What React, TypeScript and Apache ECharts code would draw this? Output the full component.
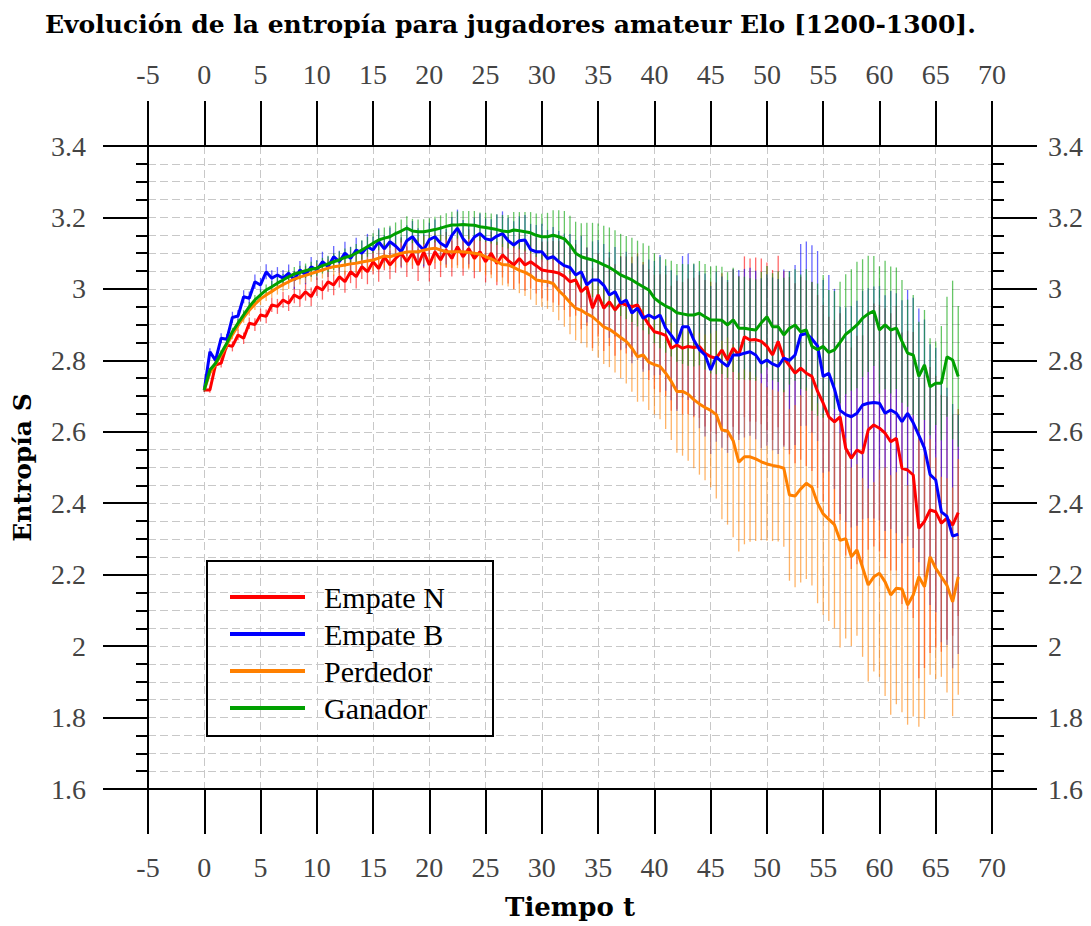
import React, { useEffect, useRef } from "react";
import * as echarts from "echarts";

const TIME = [
  0, 0.5, 1, 1.5, 2, 2.5, 3, 3.5, 4, 4.5,
  5, 5.5, 6, 6.5, 7, 7.5, 8, 8.5, 9, 9.5,
  10, 10.5, 11, 11.5, 12, 12.5, 13, 13.5, 14, 14.5,
  15, 15.5, 16, 16.5, 17, 17.5, 18, 18.5, 19, 19.5,
  20, 20.5, 21, 21.5, 22, 22.5, 23, 23.5, 24, 24.5,
  25, 25.5, 26, 26.5, 27, 27.5, 28, 28.5, 29, 29.5,
  30, 30.5, 31, 31.5, 32, 32.5, 33, 33.5, 34, 34.5,
  35, 35.5, 36, 36.5, 37, 37.5, 38, 38.5, 39, 39.5,
  40, 40.5, 41, 41.5, 42, 42.5, 43, 43.5, 44, 44.5,
  45, 45.5, 46, 46.5, 47, 47.5, 48, 48.5, 49, 49.5,
  50, 50.5, 51, 51.5, 52, 52.5, 53, 53.5, 54, 54.5,
  55, 55.5, 56, 56.5, 57, 57.5, 58, 58.5, 59, 59.5,
  60, 60.5, 61, 61.5, 62, 62.5, 63, 63.5, 64, 64.5,
  65, 65.5, 66, 66.5, 67,
];

const EMPATE_N = [
  2.717, 2.717, 2.787, 2.792, 2.843, 2.839, 2.871, 2.862, 2.904, 2.900,
  2.927, 2.923, 2.955, 2.951, 2.969, 2.960, 2.983, 2.974, 2.992, 2.978,
  3.006, 2.997, 3.020, 3.011, 3.034, 3.020, 3.048, 3.034, 3.062, 3.048,
  3.076, 3.057, 3.090, 3.067, 3.085, 3.100, 3.076, 3.100, 3.067, 3.104,
  3.067, 3.104, 3.081, 3.109, 3.085, 3.118, 3.090, 3.113, 3.085, 3.104,
  3.076, 3.100, 3.071, 3.095, 3.080, 3.067, 3.085, 3.067, 3.076, 3.065,
  3.053, 3.050, 3.048, 3.044, 3.035, 3.020, 3.025, 2.992, 3.006, 2.946,
  2.983, 2.946, 2.964, 2.941, 2.960, 2.955, 2.950, 2.955, 2.925, 2.900,
  2.880, 2.876, 2.870, 2.834, 2.843, 2.834, 2.839, 2.836, 2.839, 2.820,
  2.810, 2.806, 2.829, 2.801, 2.834, 2.815, 2.866, 2.857, 2.858, 2.853,
  2.839, 2.815, 2.853, 2.806, 2.785, 2.764, 2.778, 2.764, 2.755, 2.713,
  2.680, 2.642, 2.628, 2.642, 2.554, 2.526, 2.549, 2.540, 2.605, 2.619,
  2.610, 2.596, 2.572, 2.582, 2.498, 2.493, 2.479, 2.330, 2.349, 2.381,
  2.376, 2.344, 2.358, 2.339, 2.374,
];

const EMPATE_B = [
  2.717, 2.824, 2.800, 2.862, 2.859, 2.920, 2.924, 2.978, 2.974, 3.020,
  3.011, 3.048, 3.030, 3.039, 3.030, 3.044, 3.025, 3.053, 3.039, 3.062,
  3.053, 3.076, 3.062, 3.090, 3.076, 3.100, 3.085, 3.109, 3.100, 3.118,
  3.109, 3.132, 3.112, 3.132, 3.120, 3.104, 3.135, 3.146, 3.125, 3.109,
  3.138, 3.146, 3.128, 3.118, 3.150, 3.170, 3.140, 3.123, 3.145, 3.155,
  3.140, 3.137, 3.148, 3.155, 3.135, 3.123, 3.135, 3.137, 3.110, 3.104,
  3.104, 3.085, 3.090, 3.076, 3.065, 3.060, 3.039, 3.048, 3.011, 3.025,
  3.025, 3.010, 2.983, 2.992, 2.960, 2.969, 2.932, 2.946, 2.918, 2.927,
  2.918, 2.927, 2.890, 2.870, 2.848, 2.894, 2.894, 2.857, 2.830, 2.815,
  2.773, 2.810, 2.795, 2.783, 2.815, 2.815, 2.820, 2.824, 2.815, 2.792,
  2.801, 2.790, 2.783, 2.806, 2.800, 2.815, 2.871, 2.875, 2.860, 2.840,
  2.755, 2.764, 2.720, 2.660, 2.648, 2.642, 2.652, 2.675, 2.680, 2.682,
  2.680, 2.652, 2.661, 2.652, 2.628, 2.652, 2.625, 2.590, 2.554, 2.480,
  2.465, 2.376, 2.363, 2.308, 2.313,
];

const PERDEDOR = [
  2.717, 2.765, 2.790, 2.815, 2.843, 2.872, 2.897, 2.920, 2.940, 2.957,
  2.972, 2.983, 2.993, 3.003, 3.012, 3.020, 3.027, 3.033, 3.038, 3.043,
  3.048, 3.053, 3.058, 3.062, 3.064, 3.067, 3.070, 3.072, 3.075, 3.078,
  3.081, 3.086, 3.092, 3.090, 3.095, 3.100, 3.103, 3.104, 3.104, 3.108,
  3.112, 3.114, 3.109, 3.104, 3.104, 3.104, 3.104, 3.102, 3.100, 3.097,
  3.090, 3.084, 3.076, 3.068, 3.067, 3.060, 3.052, 3.046, 3.038, 3.025,
  3.022, 3.020, 3.015, 2.995, 2.980, 2.962, 2.946, 2.940, 2.930, 2.922,
  2.908, 2.894, 2.887, 2.876, 2.864, 2.853, 2.834, 2.810, 2.815, 2.795,
  2.788, 2.783, 2.764, 2.741, 2.713, 2.713, 2.705, 2.690, 2.678, 2.668,
  2.660, 2.648, 2.605, 2.602, 2.575, 2.515, 2.530, 2.530, 2.524, 2.516,
  2.510, 2.506, 2.503, 2.498, 2.423, 2.420, 2.440, 2.456, 2.445, 2.400,
  2.370, 2.355, 2.340, 2.296, 2.301, 2.250, 2.269, 2.220, 2.171, 2.194,
  2.204, 2.180, 2.143, 2.162, 2.160, 2.115, 2.143, 2.194, 2.166, 2.250,
  2.218, 2.194, 2.170, 2.124, 2.194,
];

const GANADOR = [
  2.717, 2.773, 2.792, 2.820, 2.848, 2.880, 2.904, 2.927, 2.950, 2.969,
  2.983, 2.997, 3.006, 3.016, 3.025, 3.034, 3.042, 3.046, 3.051, 3.055,
  3.058, 3.065, 3.070, 3.076, 3.081, 3.088, 3.092, 3.100, 3.109, 3.118,
  3.128, 3.137, 3.142, 3.146, 3.155, 3.162, 3.170, 3.162, 3.160, 3.160,
  3.163, 3.166, 3.170, 3.175, 3.179, 3.179, 3.180, 3.179, 3.178, 3.174,
  3.172, 3.169, 3.166, 3.162, 3.160, 3.165, 3.163, 3.160, 3.157, 3.150,
  3.146, 3.146, 3.150, 3.146, 3.140, 3.123, 3.100, 3.090, 3.085, 3.081,
  3.075, 3.067, 3.060, 3.050, 3.039, 3.032, 3.025, 3.015, 3.006, 2.997,
  2.974, 2.962, 2.952, 2.945, 2.933, 2.930, 2.927, 2.927, 2.932, 2.922,
  2.913, 2.913, 2.912, 2.899, 2.913, 2.890, 2.890, 2.887, 2.885, 2.905,
  2.922, 2.894, 2.894, 2.871, 2.890, 2.899, 2.880, 2.885, 2.839, 2.830,
  2.839, 2.822, 2.829, 2.850, 2.873, 2.885, 2.899, 2.918, 2.930, 2.938,
  2.885, 2.899, 2.885, 2.890, 2.853, 2.820, 2.815, 2.755, 2.787, 2.726,
  2.736, 2.736, 2.810, 2.801, 2.755,
];

const ERR_N = [
  0.005, 0.008, 0.010, 0.012, 0.012, 0.014, 0.015, 0.016, 0.016, 0.018,
  0.018, 0.019, 0.020, 0.021, 0.022, 0.022, 0.023, 0.024, 0.025, 0.026,
  0.026, 0.027, 0.028, 0.029, 0.030, 0.031, 0.032, 0.033, 0.034, 0.035,
  0.036, 0.037, 0.038, 0.040, 0.040, 0.042, 0.043, 0.044, 0.045, 0.046,
  0.046, 0.048, 0.048, 0.050, 0.050, 0.052, 0.053, 0.054, 0.055, 0.056,
  0.058, 0.060, 0.061, 0.063, 0.065, 0.067, 0.070, 0.072, 0.075, 0.078,
  0.080, 0.083, 0.086, 0.090, 0.094, 0.098, 0.100, 0.105, 0.110, 0.112,
  0.116, 0.120, 0.124, 0.128, 0.132, 0.136, 0.140, 0.145, 0.150, 0.155,
  0.160, 0.165, 0.170, 0.175, 0.180, 0.185, 0.190, 0.195, 0.200, 0.205,
  0.210, 0.212, 0.215, 0.218, 0.220, 0.222, 0.225, 0.228, 0.230, 0.232,
  0.235, 0.238, 0.240, 0.244, 0.248, 0.252, 0.256, 0.260, 0.265, 0.270,
  0.275, 0.280, 0.285, 0.290, 0.300, 0.310, 0.320, 0.330, 0.335, 0.340,
  0.345, 0.350, 0.360, 0.370, 0.380, 0.390, 0.400, 0.420, 0.410, 0.400,
  0.380, 0.360, 0.340, 0.310, 0.290,
];

const ERR_B = [
  0.005, 0.010, 0.012, 0.014, 0.015, 0.016, 0.017, 0.018, 0.019, 0.020,
  0.020, 0.021, 0.022, 0.022, 0.023, 0.024, 0.025, 0.025, 0.026, 0.027,
  0.028, 0.028, 0.029, 0.030, 0.031, 0.032, 0.033, 0.034, 0.035, 0.036,
  0.037, 0.038, 0.039, 0.040, 0.041, 0.042, 0.043, 0.044, 0.045, 0.046,
  0.047, 0.048, 0.049, 0.050, 0.051, 0.052, 0.053, 0.054, 0.055, 0.056,
  0.057, 0.058, 0.060, 0.062, 0.064, 0.066, 0.068, 0.070, 0.072, 0.075,
  0.078, 0.080, 0.083, 0.086, 0.090, 0.094, 0.098, 0.100, 0.105, 0.108,
  0.112, 0.116, 0.120, 0.125, 0.130, 0.135, 0.140, 0.145, 0.150, 0.155,
  0.160, 0.168, 0.175, 0.182, 0.190, 0.198, 0.205, 0.212, 0.220, 0.228,
  0.235, 0.238, 0.240, 0.242, 0.240, 0.238, 0.236, 0.235, 0.236, 0.238,
  0.240, 0.242, 0.245, 0.248, 0.250, 0.252, 0.255, 0.258, 0.262, 0.266,
  0.270, 0.275, 0.280, 0.290, 0.300, 0.310, 0.315, 0.320, 0.322, 0.325,
  0.328, 0.330, 0.333, 0.336, 0.340, 0.345, 0.350, 0.355, 0.360, 0.365,
  0.370, 0.365, 0.360, 0.370, 0.335,
];

const ERR_P = [
  0.005, 0.008, 0.010, 0.011, 0.012, 0.013, 0.014, 0.015, 0.015, 0.016,
  0.017, 0.017, 0.018, 0.019, 0.019, 0.020, 0.021, 0.021, 0.022, 0.023,
  0.023, 0.024, 0.025, 0.025, 0.026, 0.027, 0.028, 0.028, 0.029, 0.030,
  0.031, 0.032, 0.033, 0.034, 0.035, 0.036, 0.037, 0.038, 0.039, 0.040,
  0.041, 0.042, 0.043, 0.044, 0.045, 0.046, 0.047, 0.048, 0.049, 0.050,
  0.052, 0.054, 0.056, 0.058, 0.060, 0.062, 0.064, 0.066, 0.068, 0.070,
  0.073, 0.076, 0.080, 0.083, 0.086, 0.089, 0.090, 0.092, 0.094, 0.096,
  0.100, 0.104, 0.106, 0.110, 0.114, 0.118, 0.122, 0.126, 0.130, 0.134,
  0.140, 0.148, 0.156, 0.164, 0.172, 0.180, 0.186, 0.192, 0.198, 0.204,
  0.215, 0.235, 0.250, 0.262, 0.270, 0.250, 0.245, 0.238, 0.230, 0.220,
  0.215, 0.212, 0.210, 0.220, 0.240, 0.255, 0.262, 0.268, 0.275, 0.280,
  0.282, 0.285, 0.290, 0.300, 0.280, 0.250, 0.240, 0.250, 0.270, 0.265,
  0.290, 0.320, 0.335, 0.325, 0.345, 0.335, 0.340, 0.420, 0.370, 0.330,
  0.310, 0.280, 0.300, 0.320, 0.330,
];

const ERR_G = [
  0.004, 0.006, 0.008, 0.009, 0.010, 0.011, 0.012, 0.013, 0.013, 0.014,
  0.015, 0.015, 0.016, 0.017, 0.017, 0.018, 0.019, 0.019, 0.020, 0.021,
  0.021, 0.022, 0.023, 0.023, 0.024, 0.025, 0.025, 0.026, 0.027, 0.028,
  0.028, 0.029, 0.030, 0.031, 0.031, 0.032, 0.033, 0.034, 0.034, 0.035,
  0.035, 0.036, 0.036, 0.037, 0.037, 0.038, 0.038, 0.039, 0.040, 0.040,
  0.041, 0.042, 0.043, 0.045, 0.047, 0.050, 0.052, 0.055, 0.058, 0.061,
  0.064, 0.067, 0.070, 0.074, 0.078, 0.082, 0.088, 0.094, 0.100, 0.104,
  0.108, 0.110, 0.112, 0.114, 0.115, 0.116, 0.118, 0.120, 0.122, 0.124,
  0.126, 0.128, 0.131, 0.134, 0.137, 0.140, 0.142, 0.144, 0.146, 0.148,
  0.150, 0.152, 0.150, 0.148, 0.146, 0.145, 0.144, 0.143, 0.142, 0.142,
  0.142, 0.150, 0.155, 0.160, 0.158, 0.156, 0.160, 0.170, 0.180, 0.185,
  0.200, 0.175, 0.165, 0.170, 0.168, 0.170, 0.177, 0.165, 0.163, 0.154,
  0.178, 0.180, 0.178, 0.170, 0.172, 0.150, 0.168, 0.153, 0.154, 0.136,
  0.117, 0.160, 0.168, 0.222, 0.197,
];

const SERIES_NAMES = ["Empate N", "Empate B", "Perdedor", "Ganador"];
const SERIES_COLORS = ["#ff0000", "#0000ff", "#ff8000", "#00a000"];

const BOLD_FONT = "'DejaVu Serif', 'Liberation Serif', serif";

export default function App() {
  const ref = useRef<HTMLDivElement>(null);

  useEffect(() => {
    if (!ref.current) return;
    const chart = echarts.init(ref.current, null, { renderer: "svg" });

    const values = [EMPATE_N, EMPATE_B, PERDEDOR, GANADOR];
    const errs = [ERR_N, ERR_B, ERR_P, ERR_G];

    const tickFont = {
      fontFamily: "Liberation Serif",
      fontSize: 28,
      color: "#444",
    };
    const axisLine = {
      show: true,
      onZero: false,
      lineStyle: { color: "#000", width: 2 },
    };
    const majorTick = {
      show: true,
      inside: false,
      length: 45,
      lineStyle: { color: "#000", width: 2 },
    };
    const minorTick = {
      show: true,
      splitNumber: 4,
      length: 12,
      lineStyle: { color: "#000", width: 2 },
    };
    const dashed = { color: "#c8c8c8", width: 1, type: [8, 4] as any };
    const yFmt = (v: number) => String(parseFloat(v.toFixed(2)));
    const xFmt = (v: number) => String(v);

    const barSeries = SERIES_NAMES.map((name, k) => ({
      type: "custom",
      name: name + " error",
      xAxisIndex: 0,
      yAxisIndex: 0,
      z: 2,
      silent: true,
      encode: { x: 0, y: [1, 2] },
      data: TIME.map((t, i) => [t, values[k][i] - errs[k][i], values[k][i] + errs[k][i]]),
      renderItem: (params: any, api: any) => {
        const a = api.coord([api.value(0), api.value(1)]);
        const b = api.coord([api.value(0), api.value(2)]);
        return {
          type: "line",
          shape: { x1: a[0], y1: a[1], x2: b[0], y2: b[1] },
          style: { stroke: SERIES_COLORS[k], lineWidth: 1.3, opacity: 0.6 },
        };
      },
    }));

    const lineSeries = SERIES_NAMES.map((name, k) => ({
      type: "line",
      name,
      xAxisIndex: 0,
      yAxisIndex: 0,
      z: 3,
      showSymbol: false,
      symbol: "none",
      color: SERIES_COLORS[k],
      lineStyle: { color: SERIES_COLORS[k], width: 3 },
      data: TIME.map((t, i) => [t, values[k][i]]),
    }));

    chart.setOption({
      animation: false,
      backgroundColor: "#fff",
      title: {
        text: "Evolución de la entropía para jugadores amateur Elo [1200-1300].",
        left: 40,
        top: 7,
        textStyle: {
          fontFamily: BOLD_FONT,
          fontWeight: "bold",
          fontSize: 25,
          color: "#000",
        },
      },
      grid: { left: 148, right: 99, top: 146, bottom: 137, containLabel: false },
      legend: {
        data: SERIES_NAMES,
        orient: "vertical",
        left: 230,
        top: 582,
        padding: 0,
        icon: "rect",
        itemWidth: 75,
        itemHeight: 4,
        itemGap: 7,
        textStyle: {
          fontFamily: "Liberation Serif",
          fontSize: 30,
          lineHeight: 28,
          color: "#000",
          padding: [0, 0, 0, 14],
        },
      },
      graphic: [
        {
          type: "rect",
          shape: { x: 207, y: 561, width: 286, height: 175 },
          style: { fill: "none", stroke: "#000", lineWidth: 2 },
          z: 10,
          silent: true,
        },
      ],
      xAxis: [
        {
          type: "value",
          position: "bottom",
          min: -5,
          max: 70,
          interval: 5,
          name: "Tiempo t",
          nameLocation: "middle",
          nameGap: 105,
          nameTextStyle: {
            fontFamily: BOLD_FONT,
            fontWeight: "bold",
            fontSize: 26,
            color: "#000",
          },
          axisLine,
          axisTick: majorTick,
          axisLabel: { ...tickFont, margin: 64, formatter: xFmt },
          splitLine: { show: true, lineStyle: dashed },
        },
        {
          type: "value",
          position: "top",
          min: -5,
          max: 70,
          interval: 5,
          axisLine,
          axisTick: majorTick,
          axisLabel: { ...tickFont, margin: 58, formatter: xFmt },
          splitLine: { show: false },
        },
      ],
      yAxis: [
        {
          type: "value",
          position: "left",
          min: 1.6,
          max: 3.4,
          interval: 0.2,
          name: "Entropía S",
          nameLocation: "middle",
          nameGap: 113,
          nameTextStyle: {
            fontFamily: BOLD_FONT,
            fontWeight: "bold",
            fontSize: 25,
            color: "#000",
          },
          axisLine,
          axisTick: majorTick,
          minorTick,
          axisLabel: { ...tickFont, margin: 62, formatter: yFmt },
          splitLine: { show: true, lineStyle: dashed },
          minorSplitLine: { show: true, lineStyle: dashed },
        },
        {
          type: "value",
          position: "right",
          min: 1.6,
          max: 3.4,
          interval: 0.2,
          axisLine,
          axisTick: majorTick,
          minorTick,
          axisLabel: { ...tickFont, margin: 56, formatter: yFmt },
          splitLine: { show: false },
        },
      ],
      series: [...barSeries, ...lineSeries],
    });

    return () => chart.dispose();
  }, []);

  return (
    <div
      ref={ref}
      style={{ position: "fixed", left: 0, top: 0, width: 1091, height: 926 }}
    />
  );
}
